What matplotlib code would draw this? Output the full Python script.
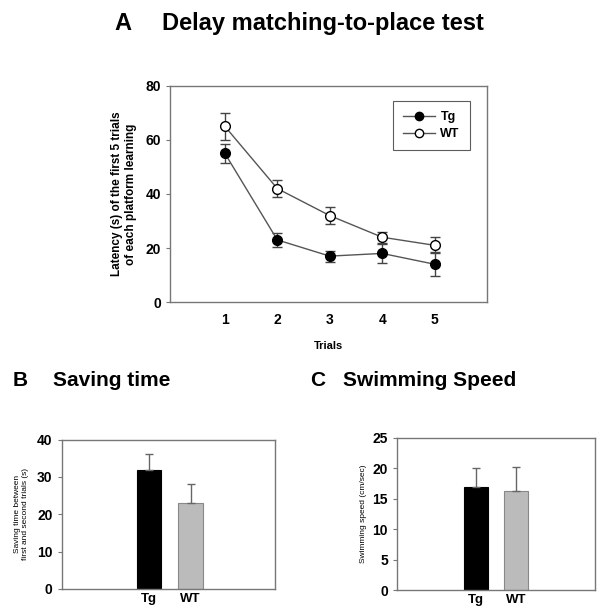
import numpy as np
import matplotlib.pyplot as plt
from matplotlib.lines import Line2D

plt.rcParams['font.family'] = ['Liberation Sans', 'DejaVu Sans']
plt.rcParams['font.weight'] = 'bold'

# Panel A: latency over trials
trials = [1, 2, 3, 4, 5]
tg_latency = [55, 23, 17, 18, 14]
tg_latency_err = [3.5, 2.5, 2, 3.5, 4.5]
wt_latency = [65, 42, 32, 24, 21]
wt_latency_err = [5, 3, 3, 2, 3]

# Panel B: saving time
groups = ['Tg', 'WT']
saving_time = [32, 23]
saving_time_err = [4.2, 5]

# Panel C: swimming speed
swim_speed = [17, 16.2]
swim_speed_err = [3, 4]

bar_colors = ['black', '#bbbbbb']
spine_grey = '#777777'

fig = plt.figure(figsize=(6.11, 6.09), dpi=100)


def style_axes(ax):
    for s in ax.spines.values():
        s.set_color(spine_grey)
        s.set_linewidth(1.0)
    ax.tick_params(axis='y', direction='out', length=3, color=spine_grey, labelsize=10)
    for lab in ax.get_yticklabels():
        lab.set_fontweight('bold')


# ---- A ----
axA = fig.add_axes([0.278, 0.504, 0.519, 0.355])
axA.errorbar(trials, tg_latency, yerr=tg_latency_err, color='#555555', lw=1,
             marker='o', ms=7, mfc='black', mec='black', ecolor='#444444',
             capsize=3.5, elinewidth=1, zorder=3)
axA.errorbar(trials, wt_latency, yerr=wt_latency_err, color='#555555', lw=1,
             marker='o', ms=7, mfc='white', mec='black', ecolor='#444444',
             capsize=3.5, elinewidth=1, zorder=3)
axA.set_xlim(-0.05, 6.0)
axA.set_ylim(0, 80)
axA.set_xticks(trials)
axA.set_yticks([0, 20, 40, 60, 80])
style_axes(axA)
axA.tick_params(axis='x', length=0, labelsize=10, pad=8)
for lab in axA.get_xticklabels():
    lab.set_fontweight('bold')
axA.set_xlabel('Trials', fontsize=8, fontweight='bold', labelpad=10)
axA.set_ylabel('Latency (s) of the first 5 trials\nof each platform learning',
               fontsize=8.5, fontweight='bold', labelpad=6)
handles = [Line2D([], [], color='#555555', lw=1, marker='o', ms=6,
                  mfc='black', mec='black'),
           Line2D([], [], color='#555555', lw=1, marker='o', ms=6,
                  mfc='white', mec='black')]
leg = axA.legend(handles, groups, loc='upper right', bbox_to_anchor=(0.946, 0.93),
                 borderaxespad=0, fontsize=9, frameon=True, fancybox=False,
                 handlelength=2.6, handletextpad=0.4, borderpad=0.8,
                 labelspacing=0.4)
leg.get_frame().set_edgecolor('#333333')
leg.get_frame().set_linewidth(0.8)
for t in leg.get_texts():
    t.set_fontweight('bold')
fig.text(0.188, 0.962, 'A', fontsize=17, fontweight='bold', va='center')
fig.text(0.265, 0.962, 'Delay matching-to-place test', fontsize=17,
         fontweight='bold', va='center')

# ---- B ----
axB = fig.add_axes([0.101, 0.033, 0.349, 0.245])
xb = np.arange(len(groups))
axB.bar(xb, saving_time, width=0.6, color=bar_colors, edgecolor=['black', '#888888'],
        linewidth=0.8)
axB.errorbar(xb, saving_time, yerr=[[0, 0], saving_time_err], fmt='none',
             ecolor='#666666', elinewidth=1, capsize=3)
axB.set_xlim(-2.1, 3.03)
axB.set_ylim(0, 40)
axB.set_yticks([0, 10, 20, 30, 40])
axB.set_xticks(xb)
axB.set_xticklabels(groups)
style_axes(axB)
axB.tick_params(axis='x', length=0, labelsize=9.5, pad=3)
for lab in axB.get_xticklabels():
    lab.set_fontweight('bold')
axB.set_ylabel('Saving time between\nfirst and second trials (s)', fontsize=6,
               fontweight='normal', labelpad=6)
fig.text(0.020, 0.376, 'B', fontsize=15, fontweight='bold', va='center')
fig.text(0.087, 0.376, 'Saving time', fontsize=15, fontweight='bold', va='center')

# ---- C ----
axC = fig.add_axes([0.650, 0.031, 0.324, 0.250])
axC.bar(xb, swim_speed, width=0.6, color=bar_colors, edgecolor=['black', '#888888'],
        linewidth=0.8)
axC.errorbar(xb, swim_speed, yerr=[[0, 0], swim_speed_err], fmt='none',
             ecolor='#666666', elinewidth=1, capsize=3)
axC.set_xlim(-2.0, 3.0)
axC.set_ylim(0, 25)
axC.set_yticks([0, 5, 10, 15, 20, 25])
axC.set_xticks(xb)
axC.set_xticklabels(groups)
style_axes(axC)
axC.tick_params(axis='x', length=0, labelsize=9.5, pad=3)
for lab in axC.get_xticklabels():
    lab.set_fontweight('bold')
axC.set_ylabel('Swimming speed (cm/sec)', fontsize=6, fontweight='normal', labelpad=4)
fig.text(0.507, 0.376, 'C', fontsize=15, fontweight='bold', va='center')
fig.text(0.561, 0.376, 'Swimming Speed', fontsize=15, fontweight='bold', va='center')

fig.savefig('out.png', dpi=100)
